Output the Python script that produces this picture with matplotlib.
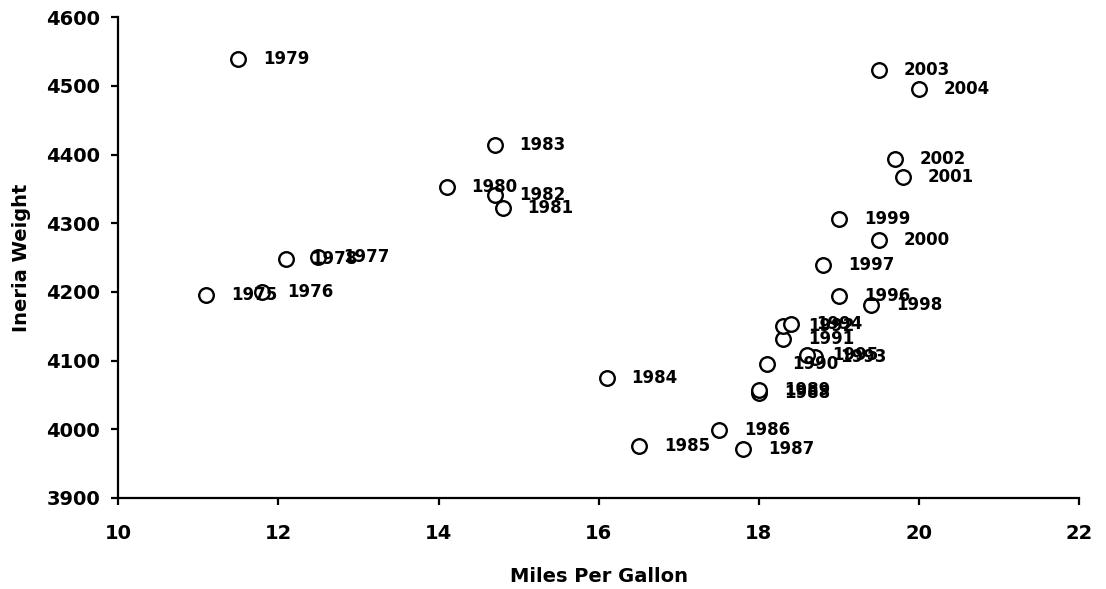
import matplotlib
matplotlib.use('Agg')
import matplotlib.pyplot as plt

# Dados
anos = [1975, 1976, 1977, 1978, 1979, 1980, 1981, 1982, 1983, 1984,
        1985, 1986, 1987, 1988, 1989, 1990, 1991, 1992, 1993, 1994,
        1995, 1996, 1997, 1998, 1999, 2000, 2001, 2002, 2003, 2004]
mpg = [11.1, 11.8, 12.5, 12.1, 11.5, 14.1, 14.8, 14.7, 14.7, 16.1,
       16.5, 17.5, 17.8, 18.0, 18.0, 18.1, 18.3, 18.3, 18.7, 18.4,
       18.6, 19.0, 18.8, 19.4, 19.0, 19.5, 19.8, 19.7, 19.5, 20.0]
peso = [4196, 4200, 4251, 4248, 4540, 4353, 4323, 4341, 4414, 4075,
        3975, 3999, 3972, 4053, 4057, 4095, 4131, 4150, 4105, 4154,
        4108, 4194, 4239, 4181, 4306, 4275, 4367, 4393, 4523, 4495]

plt.rcParams['font.family'] = ['DejaVu Sans']
plt.rcParams['font.weight'] = 'bold'

fig = plt.figure(figsize=(11.06, 5.89), dpi=100)
ax = fig.add_axes([0.107, 0.1545, 0.8686, 0.8161])

ax.plot(mpg, peso, linestyle='none', marker='o', markersize=10.5,
        markerfacecolor='white', markeredgecolor='black', markeredgewidth=1.7)

for a, x, y in zip(anos, mpg, peso):
    ax.annotate(str(a), (x, y), xytext=(18, 0), textcoords='offset points',
                va='center', ha='left', fontsize=12, fontweight='bold')

ax.set_xlim(10, 22)
ax.set_ylim(3900, 4600)
ax.set_xticks(range(10, 23, 2))
ax.set_yticks(range(3900, 4601, 100))

for lado in ['top', 'right']:
    ax.spines[lado].set_visible(False)
for lado in ['left', 'bottom']:
    ax.spines[lado].set_linewidth(1.6)

ax.tick_params(axis='both', direction='out', length=5, width=1.6,
               labelsize=14)
ax.tick_params(axis='x', pad=14)
ax.tick_params(axis='y', pad=8)
for rotulo in ax.get_xticklabels() + ax.get_yticklabels():
    rotulo.set_fontweight('bold')

ax.set_xlabel('Miles Per Gallon', fontsize=14, fontweight='bold', labelpad=17)
ax.set_ylabel('Ineria Weight', fontsize=14, fontweight='bold', labelpad=11)

fig.savefig('out.png', dpi=100)
